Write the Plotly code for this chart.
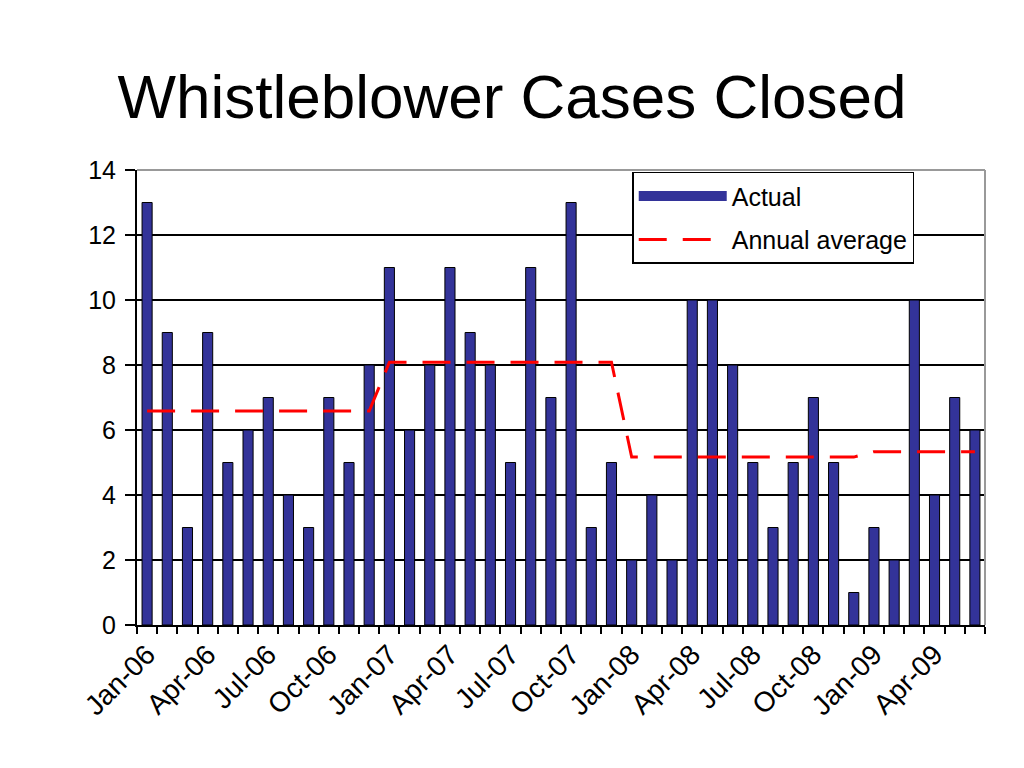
import pandas as pd
import plotly.graph_objects as go

# monthly cases closed, Jan-06 .. Jun-09
months = pd.date_range("2006-01-01", periods=42, freq="MS")
month_labels = months.strftime("%b-%y").tolist()
cases_closed = [13, 9, 3, 9, 5, 6, 7, 4, 3, 7, 5, 8,
                11, 6, 8, 11, 9, 8, 5, 11, 7, 13, 3, 5,
                2, 4, 2, 10, 10, 8, 5, 3, 5, 7, 5, 1,
                3, 2, 10, 4, 7, 6]

df = pd.DataFrame({"month": months, "label": month_labels, "cases": cases_closed})
# annual average drawn at each month of that year
df["annual_avg"] = df.groupby(df["month"].dt.year)["cases"].transform("mean")

tick_labels = [lab if i % 3 == 0 else "" for i, lab in enumerate(month_labels)]

BAR_COLOR = "#333399"

fig = go.Figure()
fig.add_trace(go.Bar(
    x=df["label"], y=df["cases"], name="Actual", showlegend=False,
    marker=dict(color=BAR_COLOR, line=dict(color="black", width=1)),
))
# legend-only entry so the key looks like the wide bar swatch
fig.add_trace(go.Scatter(
    x=[None], y=[None], name="Actual", mode="lines", legendgroup="a",
    line=dict(color=BAR_COLOR, width=10),
))
fig.add_trace(go.Scatter(
    x=df["label"], y=df["annual_avg"], name="Annual average", mode="lines",
    legendgroup="b", line=dict(color="#ff0000", width=3, dash="28px,16px"),
))

# page has an 8px body margin, so figure is 1008x752
fig.update_layout(
    width=1008, height=752,
    margin=dict(l=129, r=31, t=162, b=135),
    paper_bgcolor="white", plot_bgcolor="white",
    font=dict(family="Liberation Sans, Arial, sans-serif", color="black", size=24),
    title=dict(text="Whistleblower Cases Closed", x=0.5, xanchor="center",
               y=0.882, yanchor="middle", font=dict(size=62)),
    bargap=0.5,
    showlegend=True,
    legend=dict(x=0.584, y=0.996, xanchor="left", yanchor="top",
                bgcolor="white", bordercolor="black", borderwidth=1.5,
                font=dict(size=25), itemwidth=88, tracegroupgap=8),
)

fig.update_xaxes(
    type="category", tickmode="array", tickvals=month_labels, ticktext=tick_labels,
    tickangle=-45, tickson="boundaries", ticks="outside", ticklen=7,
    tickcolor="black", tickwidth=2, showline=True, linecolor="black", linewidth=2,
    showgrid=False, range=[-0.5, 41.5], tickfont=dict(size=28),
)
fig.update_yaxes(
    range=[0, 14], dtick=2, ticks="outside", ticklen=10, tickcolor="black",
    tickwidth=2, showline=True, linecolor="black", linewidth=2,
    showgrid=True, gridcolor="black", gridwidth=1.5, zeroline=False,
    tickfont=dict(size=25), ticklabelstandoff=4,
)

# grey frame on top and right of plot area
fig.add_shape(type="line", xref="paper", yref="paper", x0=0, x1=1, y0=1, y1=1,
              line=dict(color="#999999", width=2))
fig.add_shape(type="line", xref="paper", yref="paper", x0=1, x1=1, y0=0, y1=1,
              line=dict(color="#999999", width=2))

fig.write_html("out.html")
